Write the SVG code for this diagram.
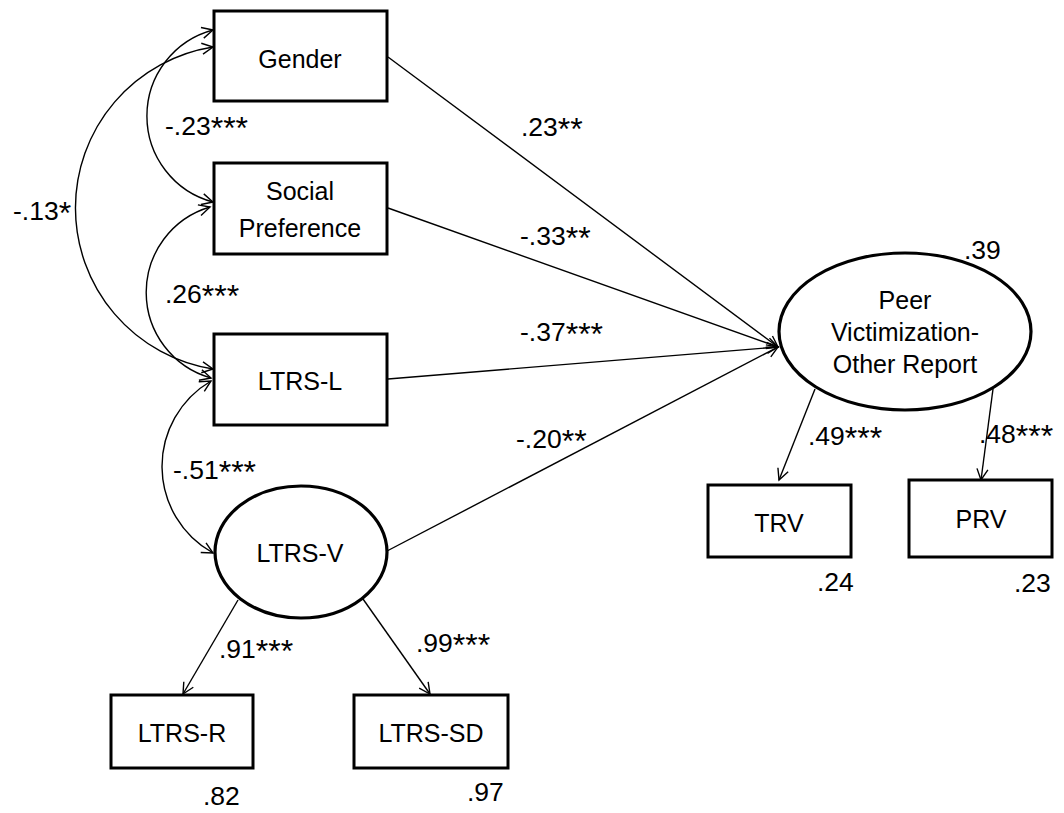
<svg xmlns="http://www.w3.org/2000/svg" width="1064" height="813" viewBox="0 0 1064 813">
<style>
.box{fill:#fff;stroke:#000;stroke-width:3}
.ell{fill:#fff;stroke:#000;stroke-width:3.2}
.t{font-family:"Liberation Sans",Arial,sans-serif;font-size:25px;fill:#000;text-anchor:middle}
.lb{font-family:"Liberation Sans",Arial,sans-serif;font-size:26.5px;fill:#000}
.s{font-size:32px}
.c{fill:none;stroke:#000;stroke-width:1.4}
.one{marker-end:url(#ah)}
.two{marker-start:url(#ah);marker-end:url(#ah)}
</style>
<defs>
<marker id="ah" viewBox="-12 -7 14 14" refX="0" refY="0" markerWidth="14" markerHeight="14" markerUnits="userSpaceOnUse" orient="auto-start-reverse">
<path d="M-11,-5.5 L0,0 L-11,5.5" fill="none" stroke="#000" stroke-width="1.4"/>
</marker>
</defs>
<rect width="1064" height="813" fill="#fff"/>
<g id="connectors">
<path class="c one" d="M388,57 L778,347"/>
<path class="c one" d="M388,208 L778,347"/>
<path class="c one" d="M388,379 L778,347"/>
<path class="c one" d="M387,551 L778,347"/>
<path class="c one" d="M815,389 L779,480"/>
<path class="c one" d="M993,389 L981,480"/>
<path class="c one" d="M238,600 L183,694"/>
<path class="c one" d="M363,599 L430,694"/>
<path class="c two" d="M213,47 A163,163 0 0 0 213,369"/>
<path class="c two" d="M213,30 A89,89 0 0 0 213,202"/>
<path class="c two" d="M210,207 A89,89 0 0 0 211,378"/>
<path class="c two" d="M211,381 A99,99 0 0 0 213,553"/>
</g>
<g id="labels">
<text class="lb" x="521" y="136">.23<tspan class="s" dy="4">**</tspan></text>
<text class="lb" x="520" y="245">-.33<tspan class="s" dy="4">**</tspan></text>
<text class="lb" x="520" y="341">-.37<tspan class="s" dy="4">***</tspan></text>
<text class="lb" x="516" y="448">-.20<tspan class="s" dy="4">**</tspan></text>
<text class="lb" x="165" y="135">-.23<tspan class="s" dy="4">***</tspan></text>
<text class="lb" x="13" y="220">-.13<tspan class="s" dy="4">*</tspan></text>
<text class="lb" x="165" y="303">.26<tspan class="s" dy="4">***</tspan></text>
<text class="lb" x="173" y="479">-.51<tspan class="s" dy="4">***</tspan></text>
<text class="lb" x="964" y="259">.39</text>
<text class="lb" x="808" y="445">.49<tspan class="s" dy="4">***</tspan></text>
<text class="lb" x="979" y="443">.48<tspan class="s" dy="4">***</tspan></text>
<text class="lb" x="817" y="591">.24</text>
<text class="lb" x="1014" y="592">.23</text>
<text class="lb" x="219" y="658">.91<tspan class="s" dy="4">***</tspan></text>
<text class="lb" x="416" y="652">.99<tspan class="s" dy="4">***</tspan></text>
<text class="lb" x="203" y="805">.82</text>
<text class="lb" x="467" y="801">.97</text>
</g>
<g id="gender"><rect class="box" x="214" y="11" width="173" height="90"/><text class="t" x="300" y="68">Gender</text></g>
<g id="social"><rect class="box" x="214" y="163" width="173" height="91"/><text class="t" x="300" y="200">Social</text><text class="t" x="300" y="237">Preference</text></g>
<g id="ltrs-l"><rect class="box" x="214" y="334" width="173" height="91"/><text class="t" x="300" y="390">LTRS-L</text></g>
<g id="ltrs-v"><ellipse class="ell" cx="301" cy="552" rx="86" ry="66"/><text class="t" x="300" y="562">LTRS-V</text></g>
<g id="peer"><ellipse class="ell" cx="905" cy="331.5" rx="126" ry="78.5"/><text class="t" x="905" y="309">Peer</text><text class="t" x="905" y="341">Victimization-</text><text class="t" x="905" y="373">Other Report</text></g>
<g id="trv"><rect class="box" x="708" y="485" width="143" height="72"/><text class="t" x="779" y="532">TRV</text></g>
<g id="prv"><rect class="box" x="909" y="480" width="143" height="77"/><text class="t" x="981" y="528">PRV</text></g>
<g id="ltrs-r"><rect class="box" x="111" y="695" width="142" height="73"/><text class="t" x="182" y="742">LTRS-R</text></g>
<g id="ltrs-sd"><rect class="box" x="354" y="695" width="154" height="73"/><text class="t" x="431" y="742">LTRS-SD</text></g>
</svg>
